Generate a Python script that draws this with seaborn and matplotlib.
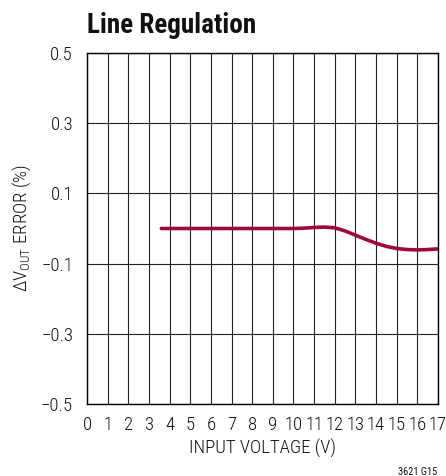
import numpy as np
import pandas as pd
import matplotlib
matplotlib.use("Agg")
import matplotlib.pyplot as plt
import seaborn as sns

# curve
vin = [3.6, 5, 6, 7, 8, 9, 10, 10.5, 11, 11.5, 12, 12.5, 13, 13.5, 14, 14.5, 15, 15.5, 16, 16.5, 17]
err = [0.0, 0.0, 0.0, 0.0, 0.0, 0.0, 0.0, 0.001, 0.003, 0.004, 0.002, -0.007, -0.019, -0.031,
       -0.042, -0.051, -0.057, -0.060, -0.061, -0.060, -0.058]

x_ticks = list(range(0, 18))
y_ticks = [-0.5, -0.3, -0.1, 0.1, 0.3, 0.5]
y_labels = ["\u22120.5", "\u22120.3", "\u22120.1", "0.1", "0.3", "0.5"]

df = pd.DataFrame({"vin": vin, "err": err})

sns.set_style("white")
plt.rcParams['font.family'] = ['Roboto Condensed', 'DejaVu Sans']
plt.rcParams['mathtext.fontset'] = 'custom'
plt.rcParams['mathtext.rm'] = 'Roboto Condensed:light'
plt.rcParams['mathtext.it'] = 'Roboto Condensed:italic'
plt.rcParams['mathtext.bf'] = 'Roboto Condensed:bold'

fig = plt.figure(figsize=(4.46, 4.76), dpi=100)
ax = fig.add_axes([87 / 446, 1 - 404 / 476, 351 / 446, 351 / 476])

sns.lineplot(data=df, x="vin", y="err", ax=ax, color="#9c0a3c", linewidth=2.6)

ax.set_xlim(0, 17)
ax.set_ylim(-0.5, 0.5)
ax.set_xticks(x_ticks)
ax.set_xticklabels([str(t) for t in x_ticks], fontsize=13.5, fontweight="light", color="#111111")
ax.set_yticks(y_ticks)
ax.set_yticklabels(y_labels, fontsize=13.5, fontweight="light", color="#111111")
ax.tick_params(axis="x", length=0, pad=9)
ax.tick_params(axis="y", length=0, pad=10)
ax.grid(True, color="#222222", linewidth=0.8)
ax.set_axisbelow(True)
for s in ax.spines.values():
    s.set_color("black")
    s.set_linewidth(1.0)

ax.set_xlabel("INPUT VOLTAGE (V)", fontsize=13.5, fontweight="light", labelpad=3, color="#111111")
ax.set_ylabel(r"$\Delta$V$_{\mathrm{OUT}}$ ERROR (%)", fontsize=13.5, fontweight="light",
              labelpad=6, color="#111111")

fig.text(87 / 446, 1 - 33 / 476, "Line Regulation", fontsize=19.5, fontweight="bold",
         ha="left", va="baseline", color="#111111")
fig.text(437 / 446, 1 - 475 / 476, "3621 G15", fontsize=7.5, ha="right", va="baseline",
         color="#111111")

fig.savefig("out.png", dpi=100)
